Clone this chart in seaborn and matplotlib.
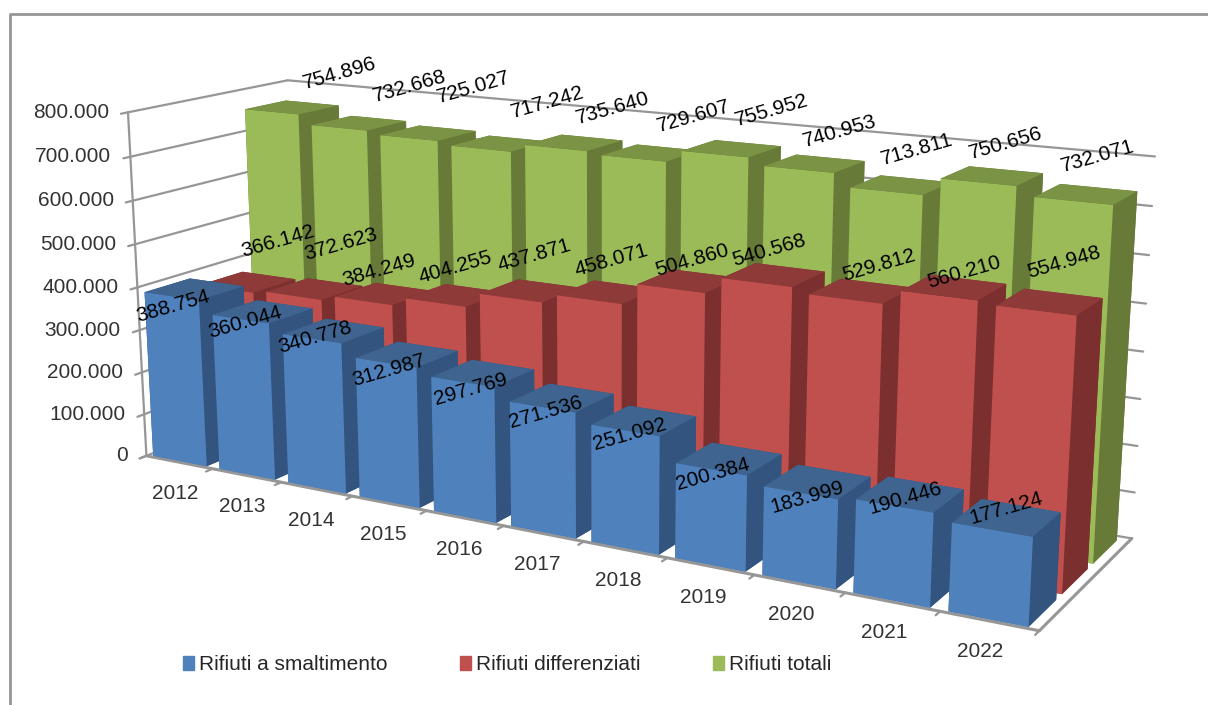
import matplotlib
matplotlib.use("Agg")
import matplotlib.pyplot as plt
from matplotlib.lines import Line2D
from matplotlib.patches import Patch
from matplotlib.transforms import offset_copy
from mpl_toolkits.mplot3d import proj3d
import seaborn as sns

years = ["2012", "2013", "2014", "2015", "2016", "2017", "2018", "2019", "2020", "2021", "2022"]
smaltimento = [388754, 360044, 340778, 312987, 297769, 271536, 251092, 200384, 183999, 190446, 177124]
differenziati = [366142, 372623, 384249, 404255, 437871, 458071, 504860, 540568, 529812, 560210, 554948]
totali = [754896, 732668, 725027, 717242, 735640, 729607, 755952, 740953, 713811, 750656, 732071]
series_names = ["Rifiuti a smaltimento", "Rifiuti differenziati", "Rifiuti totali"]
z_ticks = [0, 100000, 200000, 300000, 400000, 500000, 600000, 700000, 800000]

front_colors = ["#4F81BD", "#C0504D", "#9BBB59"]
top_colors = ["#3E648F", "#8E3A39", "#7A9345"]
side_colors = ["#32547E", "#7B2F2E", "#677A37"]


def dotted(v):
    return f"{v:,}".replace(",", ".")


sns.set_theme(style="white")
plt.rcParams["font.family"] = ["Liberation Sans", "DejaVu Sans"]
grid_col = "#969696"

fig = plt.figure(figsize=(12.08, 7.05), dpi=100)
# axes much bigger than the figure so the square 3d box does not clip anything
ax = fig.add_axes([-0.2125, -0.683, 1.4, 2.4], projection="3d")
ax.computed_zorder = False
ax.set_proj_type("persp", focal_length=0.244)
ax.view_init(elev=14.2, azim=-60.4)
ax.set_xlim(0, 11)
ax.set_ylim(0, 3)
ax.set_zlim(0, 800000)
ax.set_box_aspect((11, 2.95, 4.1), zoom=0.632)
ax.set_axis_off()


def place(x, y, z, label, dx=0, dy=0, **kw):
    px, py, _ = proj3d.proj_transform(x, y, z, ax.get_proj())
    tr = offset_copy(ax.transData, fig=fig, x=dx, y=dy, units="dots")
    return ax.text2D(px, py, label, transform=tr, **kw)


# walls, floor and ticks
for t in z_ticks:
    ax.plot([0, 11], [3, 3], [t, t], color=grid_col, lw=1.6, zorder=1)
    ax.plot([0, 0], [0, 3], [t, t], color=grid_col, lw=1.6, zorder=1)
    ax.plot([0, 0], [-0.12, 0], [t, t], color=grid_col, lw=1.6, zorder=1)
    lab = "0" if t == 0 else dotted(t)
    place(0, 0, t, lab, dx=-19, ha="right", va="center", fontsize=15, color="#333333", zorder=60)
ax.plot([0, 0], [0, 0], [0, 800000], color=grid_col, lw=1.6, zorder=1)
ax.plot([0, 11], [0, 0], [0, 0], color=grid_col, lw=2.2, zorder=2)
ax.plot([11, 11], [0, 3], [0, 0], color=grid_col, lw=2.2, zorder=2)
for i in range(12):
    ax.plot([i, i], [0, -0.12], [0, 0], color=grid_col, lw=1.6, zorder=2)
for i, yr in enumerate(years):
    place(i + 0.45, 0, 0, yr, dx=-1 - 0.3 * i, dy=-32, ha="center", va="center", fontsize=15, color="#333333", zorder=60)

# bars, back to front and left to right (the right end of the floor is nearest)
bar_w = 0.81
bar_d = 0.82
order = 3
for s, vals in reversed(list(enumerate([smaltimento, differenziati, totali]))):
    for i in range(len(years)):
        cols = [top_colors[s], top_colors[s], front_colors[s], side_colors[s], side_colors[s], side_colors[s]]
        b = ax.bar3d(i + 0.07, s + 0.04, 0, bar_w, bar_d, vals[i],
                     color=cols, shade=False, edgecolor="none", linewidth=0)
        b.set_zorder(order)
        order += 1

# value labels: pixel nudges from the top face, Excel places them unevenly
nudge_blue = [(-23, -17), (-19, -10), (-20, -6), (-20, -16), (-14, -16), (-18, -14), (-16, -13), (-18, -15), (-13, -15), (-7, -4), (-3, 10)]
nudge_red = [(28, 41), (25, 45), (-6, 24), (-2, 28), (3, 36), (2, 32), (1, 21), (-7, 25), (15, 26), (8, 15), (12, 40)]
nudge_green = [(46, 34), (49, 37), (44, 46), (46, 41), (37, 35), (41, 37), (38, 38), (23, 32), (14, 36), (11, 33), (9, 38)]
nudges = [nudge_blue, nudge_red, nudge_green]
for s, vals in enumerate([smaltimento, differenziati, totali]):
    for i, v in enumerate(vals):
        dx, dy = nudges[s][i]
        place(i + 0.5, s + 0.45, v, dotted(v), dx=dx, dy=dy, rotation=16, rotation_mode="anchor",
              ha="center", va="center", fontsize=15, color="black", zorder=70)

handles = [Patch(color=c) for c in front_colors]
fig.legend(handles, series_names, loc="center", bbox_to_anchor=(0.42, 0.057), ncol=3, frameon=False,
           fontsize=15, handlelength=0.5, handleheight=0.7, handletextpad=0.25, columnspacing=3.5)

# chart area frame, top and left only
fig.add_artist(Line2D([0.0085, 0.0085, 1.0], [0.0, 0.98, 0.98], color=grid_col, lw=2))

fig.savefig("out.png", dpi=100)
